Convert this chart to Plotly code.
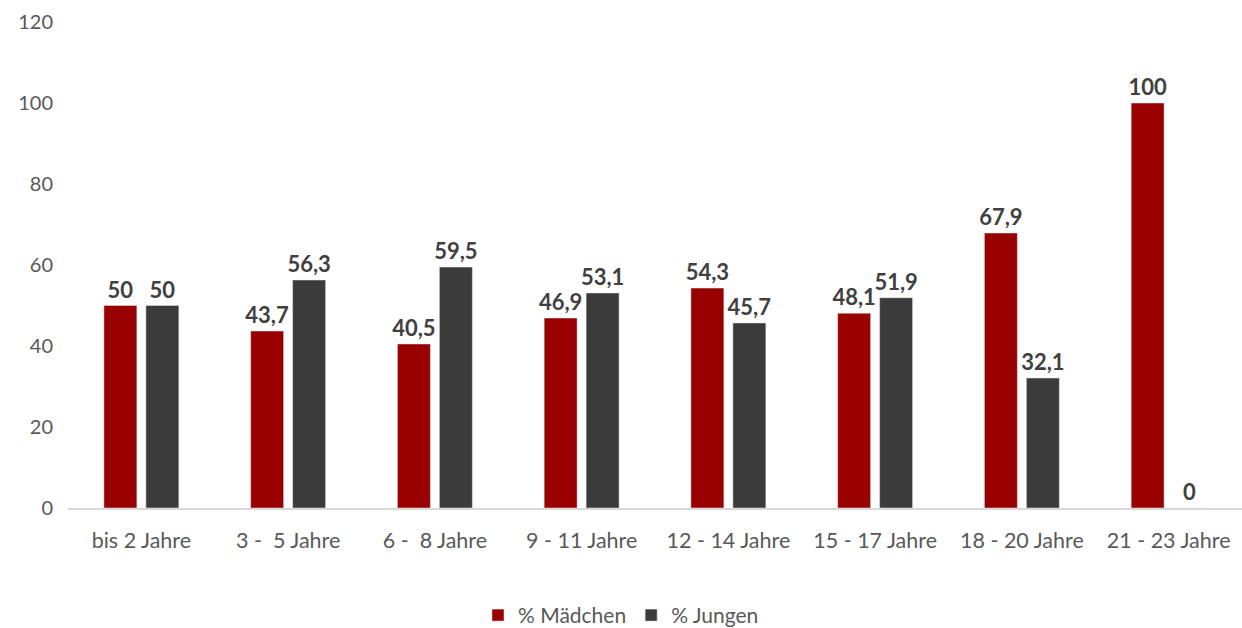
import plotly.graph_objects as go

categories = ["bis 2 Jahre", "3 - \u00a05 Jahre", "6 - \u00a08 Jahre", "9 - 11 Jahre",
              "12 - 14 Jahre", "15 - 17 Jahre", "18 - 20 Jahre", "21 - 23 Jahre"]
maedchen = [50, 43.7, 40.5, 46.9, 54.3, 48.1, 67.9, 100]
jungen = [50, 56.3, 59.5, 53.1, 45.7, 51.9, 32.1, 0]

def lab(vals):
    return [f"{v:g}".replace(".", ",") for v in vals]

FONT = "Lato"
fig = go.Figure()
fig.add_trace(go.Bar(x=categories, y=maedchen, name="% Mädchen", marker_color="#990000",
                     text=lab(maedchen), textposition="outside", cliponaxis=False,
                     constraintext="none",
                     textfont=dict(family=FONT, size=22, color="#404040", weight="bold")))
fig.add_trace(go.Bar(x=categories, y=jungen, name="% Jungen", marker_color="#3b3b3b",
                     text=lab(jungen), textposition="outside", cliponaxis=False,
                     constraintext="none",
                     textfont=dict(family=FONT, size=22, color="#404040", weight="bold")))

fig.update_layout(
    width=1242, height=628,
    margin=dict(l=68, r=0, t=22, b=120),
    paper_bgcolor="white", plot_bgcolor="white",
    barmode="group", bargap=0.428, bargroupgap=0.214,
    font=dict(family=FONT, size=21, color="#595959"),
    showlegend=True,
    legend=dict(orientation="h", xref="container", yref="container", x=0.5, xanchor="center",
                y=0.02, yanchor="middle", font=dict(size=21, color="#595959"),
                itemwidth=30, traceorder="normal"),
)
fig.update_xaxes(showline=True, linecolor="#d9d9d9", linewidth=1.5, ticks="",
                 tickfont=dict(size=21.5, color="#595959"), ticklabelstandoff=12)
fig.update_yaxes(range=[0, 120], dtick=20, showgrid=False, zeroline=False, showline=False,
                 tickfont=dict(size=20, color="#595959"), ticklabelstandoff=14)

fig.write_html("out.html")
